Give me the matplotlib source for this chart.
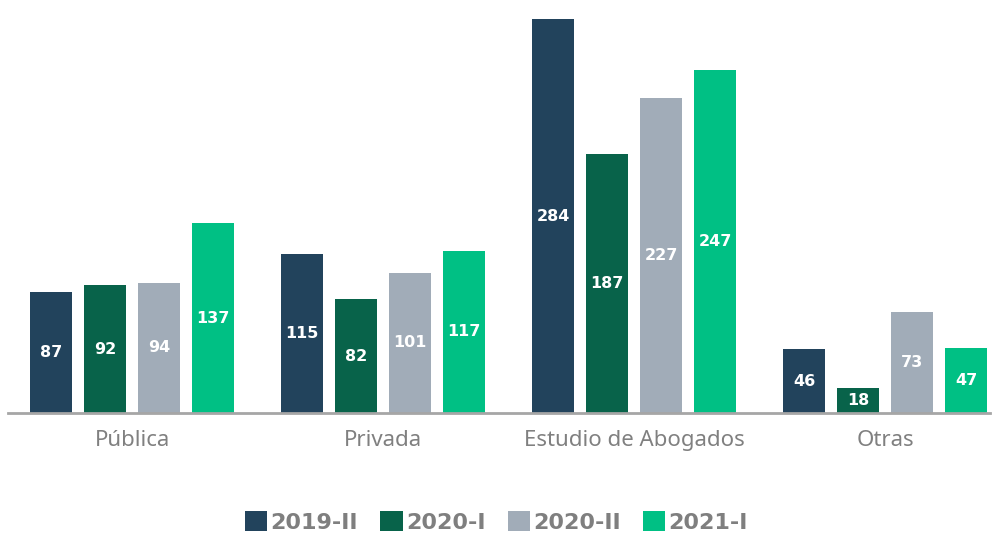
import matplotlib
matplotlib.use("Agg")
import matplotlib.pyplot as plt
import numpy as np
from matplotlib.patches import Patch

categories = ["Pública", "Privada", "Estudio de Abogados", "Otras"]
series = ["2019-II", "2020-I", "2020-II", "2021-I"]
v2019_II = [87, 115, 284, 46]
v2020_I = [92, 82, 187, 18]
v2020_II = [94, 101, 227, 73]
v2021_I = [137, 117, 247, 47]
values = [v2019_II, v2020_I, v2020_II, v2021_I]
colors = ["#22435C", "#08634A", "#A1ACB8", "#00C084"]

plt.rcParams['font.family'] = ['Noto Sans', 'DejaVu Sans']

fig = plt.figure(figsize=(9.93, 5.33), dpi=100)
ax = fig.add_axes([8/993, (533-413)/533, (990-8)/993, 413/533])

x = np.arange(len(categories))
pitch = 0.215
width = 0.167
offsets = (np.arange(4) - 1.5) * pitch
for i, (vals, c) in enumerate(zip(values, colors)):
    bars = ax.bar(x + offsets[i], vals, width=width, color=c, zorder=2)
    for b, v in zip(bars, vals):
        ax.text(b.get_x() + b.get_width()/2, v/2, str(v), ha='center', va='center',
                color='white', fontsize=11.5, fontweight='bold', family='DejaVu Sans',
                zorder=3)

ax.set_xlim(-0.494, 3.418)
ax.set_ylim(0, 297.8)
for s in ['top', 'right', 'left']:
    ax.spines[s].set_visible(False)
ax.spines['bottom'].set_color('#A6A6A6')
ax.spines['bottom'].set_linewidth(2)
ax.set_yticks([])
ax.set_xticks(x)
ax.set_xticklabels(categories, fontsize=16, color='#808080')
ax.tick_params(axis='x', length=0, pad=12)

handles = [Patch(facecolor=c, edgecolor='none') for c in colors]
leg = fig.legend(handles, series, loc='center', bbox_to_anchor=(0.5, 1 - 522/533),
                 ncol=4, frameon=False, handlelength=1.0, handleheight=1.0,
                 handletextpad=0.15, columnspacing=1.0,
                 prop={'size': 16, 'weight': 'bold', 'family': 'DejaVu Sans'})
for t in leg.get_texts():
    t.set_color('#7F7F7F')

fig.savefig("out.png", dpi=100)
